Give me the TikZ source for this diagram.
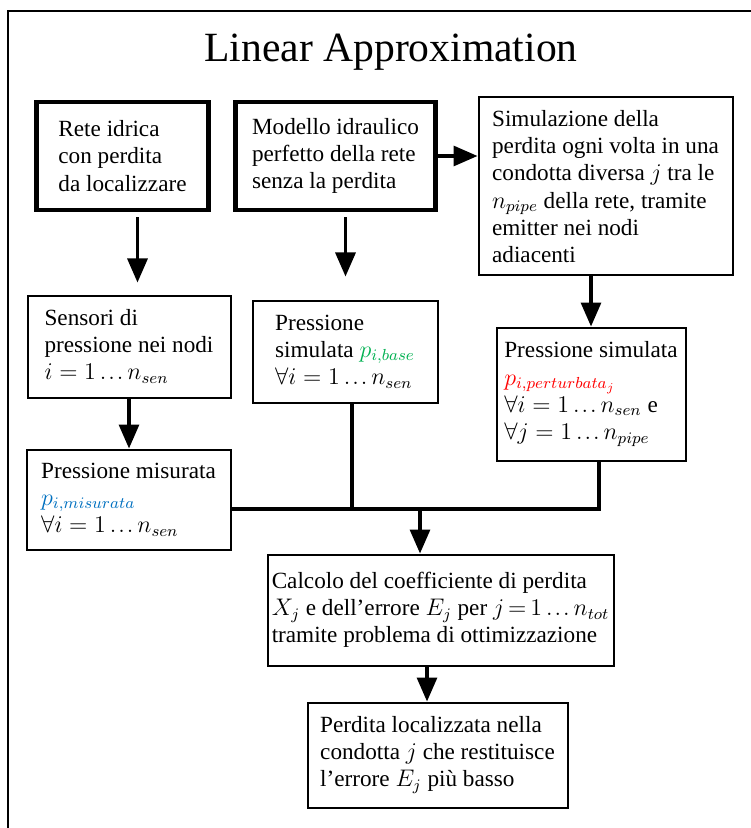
\documentclass[tikz,border=0pt]{standalone}
\usepackage{fontspec}
\setmainfont{Liberation Serif}
\usetikzlibrary{arrows.meta}
\definecolor{pgreen}{RGB}{0,176,80}
\definecolor{pblue}{RGB}{0,112,192}
\definecolor{pred}{RGB}{255,0,0}
\newcommand{\dts}{\mathinner{\ldotp\mkern-1.5mu\ldotp\mkern-1.5mu\ldotp}}

\begin{document}
\begin{tikzpicture}[x=0.5pt,y=-0.5pt]
	\tikzset{box/.style={draw, line width=1pt, align=left, inner xsep=2pt, inner ysep=0pt,
			font=\fontsize{11.6}{13.6}\selectfont},
		bigbox/.style={box, line width=2.4pt},
		link/.style={line width=1.6pt},
		arr/.style={link, -{Triangle[length=12pt,width=10pt]}}}
	\useasboundingbox (0,0) rectangle (750,828);
	\draw[line width=1pt] (8,11) rectangle (780,860);
	\node[font=\fontsize{20.8}{24}\selectfont] (title) at (391,52) {Linear Approximation};
	\node[bigbox, minimum width=86pt, minimum height=54pt] (rete) at (122.5,156) {Rete idrica\\con perdita\\da localizzare};
	\node[bigbox, minimum width=100pt, minimum height=54pt] (modello) at (335.5,156) {Modello idraulico\\perfetto della rete\\senza la perdita};
	\node[box, minimum width=127pt, minimum height=89pt] (simul) at (605.5,186.5) {Simulazione della\\perdita ogni volta in una\\condotta diversa $j$ tra le\\$n_{pipe}$ della rete, tramite\\emitter nei nodi\\adiacenti};
	\node[box, minimum width=101.5pt, minimum height=51pt] (sens) at (129,346.5) {Sensori di\\pressione nei nodi\\$i = 1 \dts n_{sen}$};
	\node[box, minimum width=92.5pt, minimum height=51pt] (pbase) at (345,351.5) {Pressione\\simulata {\color{pgreen}$p_{i,base}$}\\$\forall i = 1 \dts n_{sen}$};
	\node[box, minimum width=94.5pt, minimum height=66.5pt] (ppert) at (591,394) {Pressione simulata\\{\color{pred}$p_{i,perturbata_j}$}\\$\forall i = 1 \dts n_{sen}$ e\\$\forall j = 1 \dts n_{pipe}$};
	\node[box, minimum width=102pt, minimum height=50pt] (pmis) at (128.5,499.5) {Pressione misurata\\{\color{pblue}$p_{i,misurata}$}\\$\forall i = 1 \dts n_{sen}$};
	\node[box, minimum width=173pt, minimum height=55.5pt] (calc) at (440.5,610) {Calcolo del coefficiente di perdita\\$X_j$ e dell'errore $E_j$ per {\thickmuskip=3mu $j = 1 \dts n_{tot}$}\\tramite problema di ottimizzazione};
	\node[box, minimum width=130pt, minimum height=52.5pt] (loc) at (437.5,755) {Perdita localizzata nella\\condotta $j$ che restituisce\\l'errore $E_j$ più basso};
	\coordinate (jn) at (420,509);
	\draw[arr, shorten <=2.5pt, shorten >=6pt] ([xshift=7.5pt]rete.south) -- ([xshift=7.5pt]rete.south |- sens.north);
	\draw[arr] (modello.east) -- (modello.east -| simul.west);
	\draw[arr, shorten <=2.5pt, shorten >=11.5pt] ([xshift=5pt]modello.south) -- ([xshift=5pt]modello.south |- pbase.north);
	\draw[arr] (simul.south -| ppert.north) -- (ppert.north);
	\draw[arr] (sens.south) -- (sens.south |- pmis.north);
	\draw[link] ([xshift=4pt]ppert.south) -- ([xshift=4pt]ppert.south |- jn) -- (pmis.east |- jn);
	\draw[link] ([xshift=3.5pt]pbase.south) -- ([xshift=3.5pt]pbase.south |- jn);
	\draw[arr] (jn) -- (jn |- calc.north);
	\draw[arr] ([xshift=-6.75pt]calc.south) -- ([xshift=-6.75pt]calc.south |- loc.north);
\end{tikzpicture}
\end{document}
